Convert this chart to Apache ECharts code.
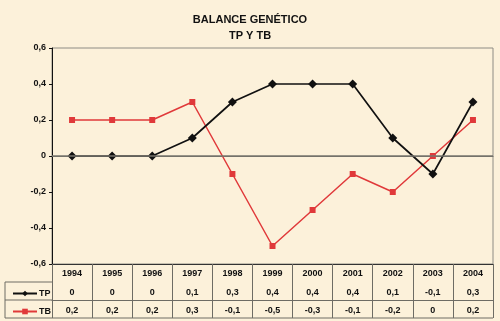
<!DOCTYPE html>
<html><head><meta charset="utf-8">
<script src="https://cdn.jsdelivr.net/npm/echarts@6/dist/echarts.min.js"></script>
<style>html,body{margin:0;padding:0;background:#fcf1da;}#c{width:500px;height:321px;}</style>
</head><body><div id="c"></div>
<script>
const years = ['1994','1995','1996','1997','1998','1999','2000','2001','2002','2003','2004'];
const tp = [0, 0, 0, 0.1, 0.3, 0.4, 0.4, 0.4, 0.1, -0.1, 0.3];
const tb = [0.2, 0.2, 0.2, 0.3, -0.1, -0.5, -0.3, -0.1, -0.2, 0, 0.2];
const yTicks = [-0.6, -0.4, -0.2, 0, 0.2, 0.4, 0.6];

const fmt = v => String(v).replace('.', ',');
const FONT = 'Liberation Sans, Arial, sans-serif';
const GRID = {left: 52, right: 7, top: 48, bottom: 57};
const lineCol = '#6e6c64';
const red = '#e0393a';

const chart = echarts.init(document.getElementById('c'));
const labelStyle = {fontFamily: FONT, fontWeight: 'bold', fontSize: 9, color: '#111'};

function tableAxis(idx, data, offset) {
  return {
    type: 'category', gridIndex: 0, position: 'bottom', offset: offset,
    data: data, boundaryGap: true,
    axisLine: {show: true, lineStyle: {color: lineCol, width: 1}},
    axisTick: {show: false},
    axisLabel: Object.assign({margin: 6, interval: 0}, labelStyle),
    splitLine: {show: false}
  };
}

chart.setOption({
  backgroundColor: '#fcf1da',
  animation: false,
  title: {
    text: 'BALANCE GENÉTICO\nTP Y TB', left: 'center', top: 7,
    textStyle: {fontFamily: FONT, fontWeight: 'bold', fontSize: 11, color: '#111', lineHeight: 16}
  },
  grid: Object.assign({show: true, borderColor: '#8e8c84', borderWidth: 1, backgroundColor: 'transparent'}, GRID),
  legend: [
    {data: ['TP'], left: 7, top: 284, itemWidth: 24, itemHeight: 7, itemGap: 2,
     textStyle: Object.assign({}, labelStyle, {padding: [0,0,0,-3]})},
    {data: ['TB'], left: 7, top: 302, itemWidth: 24, itemHeight: 7, itemGap: 2,
     textStyle: Object.assign({}, labelStyle, {padding: [0,0,0,-3]})}
  ],
  xAxis: [
    {
      type: 'category', data: years, position: 'bottom', boundaryGap: true,
      axisLine: {show: true, onZero: false, lineStyle: {color: '#333', width: 1}},
      axisTick: {show: true, interval: 0, inside: false, length: 54, lineStyle: {color: lineCol}},
      axisLabel: Object.assign({margin: 5, interval: 0}, labelStyle),
      splitLine: {show: false}
    },
    tableAxis(1, tp.map(fmt), 18),
    tableAxis(2, tb.map(fmt), 36)
  ],
  yAxis: {
    type: 'value', min: yTicks[0], max: yTicks[yTicks.length - 1], interval: 0.2,
    axisLine: {show: true, lineStyle: {color: '#111', width: 1}},
    axisTick: {show: true, length: 3, lineStyle: {color: '#111'}},
    axisLabel: Object.assign({margin: 6, formatter: v => fmt(Math.round(v * 10) / 10)}, labelStyle),
    splitLine: {show: false}
  },
  series: [
    {
      name: 'TP', type: 'line', data: tp, xAxisIndex: 0,
      symbol: 'diamond', symbolSize: 9,
      lineStyle: {color: '#111', width: 1.7}, itemStyle: {color: '#111'},
      markLine: {
        silent: true, symbol: 'none', label: {show: false},
        lineStyle: {color: '#77756c', width: 1.5, type: 'solid'},
        data: [{yAxis: 0}]
      },
      z: 3
    },
    {
      name: 'TB', type: 'line', data: tb, xAxisIndex: 0,
      symbol: 'rect', symbolSize: 6,
      lineStyle: {color: red, width: 1.5}, itemStyle: {color: red},
      z: 2
    }
  ]
});

// table borders for legend column and bottom edge
const W = 500, H = 321;
const x0 = 5, xL = GRID.left, xR = W - GRID.right;
const yTop = H - GRID.bottom;
const r1 = yTop + 18, r2 = yTop + 36, r3 = yTop + 54;
const ls = {stroke: lineCol, lineWidth: 1};
chart.setOption({
  graphic: [
    {type: 'line', shape: {x1: x0, y1: r1, x2: xL, y2: r1}, style: ls, silent: true},
    {type: 'line', shape: {x1: x0, y1: r2, x2: xL, y2: r2}, style: ls, silent: true},
    {type: 'line', shape: {x1: x0, y1: r3, x2: xR, y2: r3}, style: ls, silent: true},
    {type: 'line', shape: {x1: x0, y1: r1, x2: x0, y2: r3}, style: ls, silent: true}
  ]
});
</script></body></html>
